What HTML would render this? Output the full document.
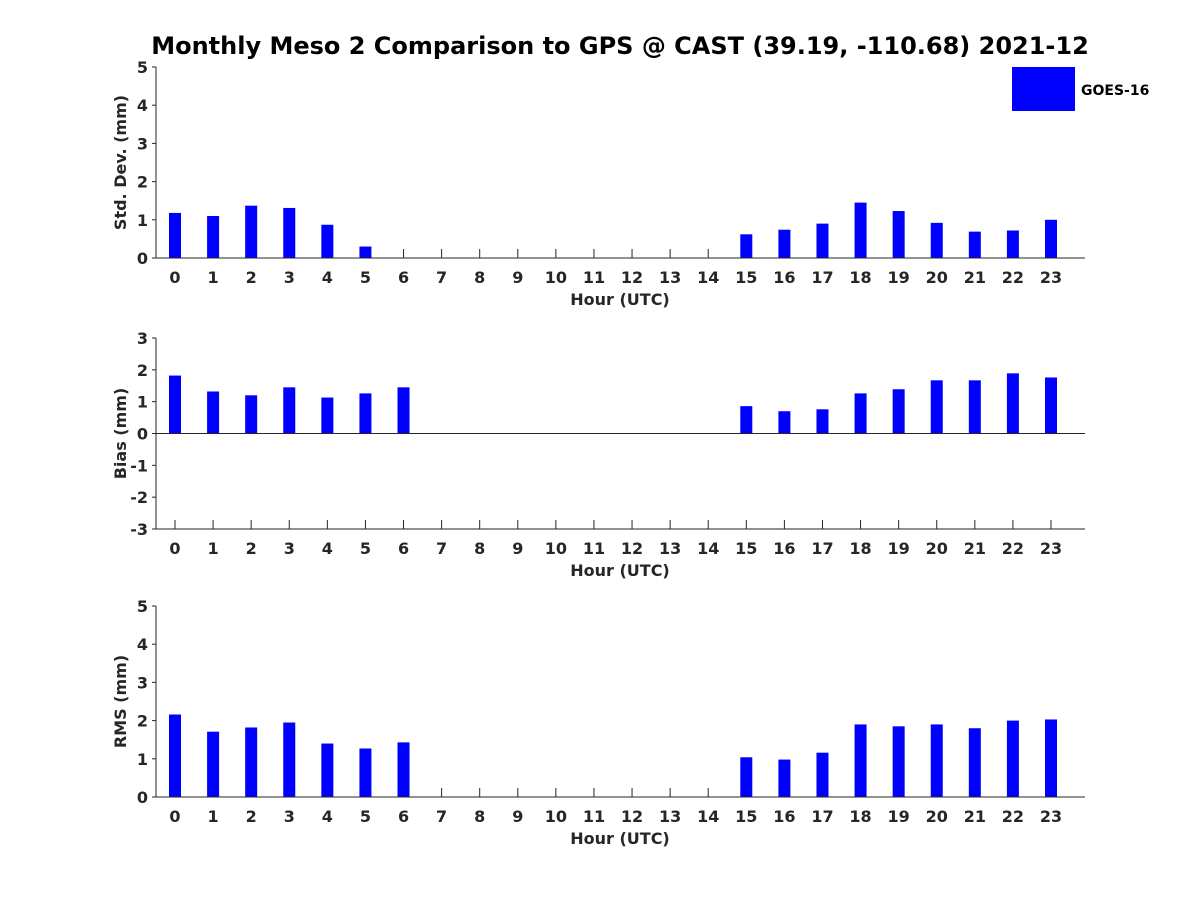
<!DOCTYPE html>
<html><head><meta charset="utf-8"><style>
body{margin:0;background:#fff;}
svg text{font-family:"DejaVu Sans","Liberation Sans",sans-serif;font-weight:bold;fill:#262626;}
</style></head><body>
<svg id="chart" width="1200" height="900" xmlns="http://www.w3.org/2000/svg">
<text x="620" y="54" text-anchor="middle" font-size="24" style="fill:#000">Monthly Meso 2 Comparison to GPS @ CAST (39.19, -110.68) 2021-12</text>
<rect x="1012" y="67" width="63" height="44" fill="#0000ff"/>
<text x="1081" y="95" font-size="14" style="fill:#000">GOES-16</text>
</svg>
<script>
const hours = [0,1,2,3,4,5,6,7,8,9,10,11,12,13,14,15,16,17,18,19,20,21,22,23];
const stdValues = [1.18,1.10,1.37,1.31,0.87,0.30,null,null,null,null,null,null,null,null,null,0.62,0.74,0.90,1.45,1.23,0.92,0.69,0.72,1.00];
const biasValues = [1.82,1.32,1.20,1.45,1.13,1.26,1.45,null,null,null,null,null,null,null,null,0.86,0.70,0.76,1.26,1.39,1.67,1.67,1.89,1.76];
const rmsValues = [2.16,1.71,1.82,1.95,1.40,1.27,1.43,null,null,null,null,null,null,null,null,1.04,0.98,1.16,1.90,1.85,1.90,1.80,2.00,2.03];
const stdTicks = [0,1,2,3,4,5];
const biasTicks = [-3,-2,-1,0,1,2,3];
const rmsTicks = [0,1,2,3,4,5];

const svg = document.getElementById('chart');
const NS = 'http://www.w3.org/2000/svg';
function mk(tag, attrs){const e=document.createElementNS(NS,tag);for(const k in attrs)e.setAttribute(k,attrs[k]);svg.appendChild(e);return e;}
const xL=156, xR=1085;
function xScale(h){return 175 + h*(1051-175)/23;}

function panel(name, values, ticks, yMin, yMax, top, bottom, ylabel){
  const yS = v => bottom - (v-yMin)/(yMax-yMin)*(bottom-top);
  hours.forEach(h=>{
    const x=xScale(h);
    const l=mk('line',{x1:x,x2:x,y1:bottom,y2:bottom-9,stroke:'#262626'});
    
    
    const tx=mk('text',{x:x,y:bottom+25,'text-anchor':'middle','font-size':16});
    tx.textContent=h;
    
    
  });
  values.forEach((v,i)=>{
    if(v===null) return;
    const y0=yS(0), y1=yS(v);
    const r=mk('rect',{x:xScale(hours[i])-6,y:Math.min(y0,y1),width:12,height:Math.abs(y1-y0),fill:'#0000ff'});
    
    
  });
  if(yMin<0){
    const z=mk('line',{x1:xL,x2:xR,y1:yS(0),y2:yS(0),stroke:'#262626','stroke-width':1});
    
    
  }
  const ax=mk('path',{d:`M${xL},${top} V${bottom} H${xR}`,fill:'none',stroke:'#262626','stroke-width':1});
  
  
  ticks.forEach(t=>{
    const y=yS(t);
    const l=mk('line',{x1:xL-4,x2:xL,y1:y,y2:y,stroke:'#262626'});
    
    
    const tx=mk('text',{x:xL-8,y:y+6,'text-anchor':'end','font-size':16});
    tx.textContent=t;
    
    
  });
  const xt=mk('text',{x:620,y:bottom+47,'text-anchor':'middle','font-size':16});
  xt.textContent='Hour (UTC)';
  
  
  const cy=(top+bottom)/2;
  const yt=mk('text',{x:0,y:0,'text-anchor':'middle','font-size':16,transform:`translate(126,${cy}) rotate(-90)`});
  yt.textContent=ylabel;
  
  
}
panel('std', stdValues, stdTicks, 0, 5, 67, 258, 'Std. Dev. (mm)');
panel('bias', biasValues, biasTicks, -3, 3, 338, 529, 'Bias (mm)');
panel('rms', rmsValues, rmsTicks, 0, 5, 606, 797, 'RMS (mm)');
</script>
</body></html>
